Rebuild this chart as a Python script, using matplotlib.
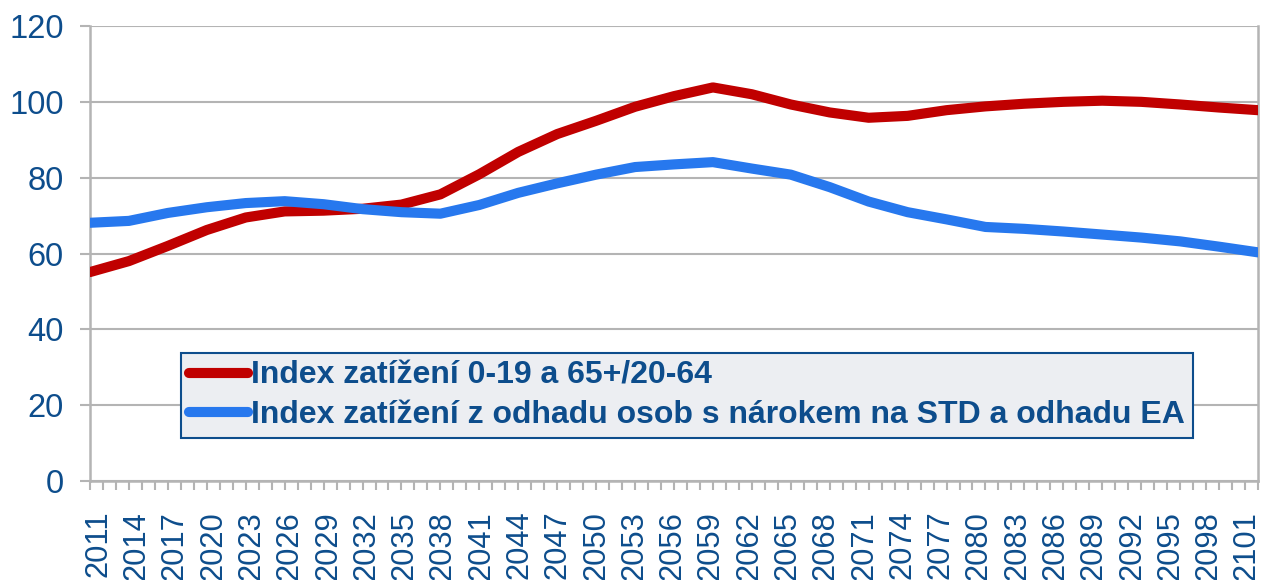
import matplotlib
matplotlib.use("Agg")
import matplotlib.pyplot as plt
from matplotlib.transforms import ScaledTranslation

years = list(range(2011, 2102, 3))
red_values = [55.1, 58.0, 62.0, 66.2, 69.5, 71.1, 71.3, 71.8, 72.9, 75.6,
              80.9, 86.8, 91.5, 95.0, 98.7, 101.5, 103.8, 102.0, 99.3, 97.2,
              95.8, 96.3, 97.8, 98.8, 99.5, 100.0, 100.3, 100.0, 99.3, 98.5, 97.8]
blue_values = [68.1, 68.6, 70.7, 72.2, 73.3, 73.8, 73.0, 71.7, 70.9, 70.5,
               72.8, 76.0, 78.5, 80.8, 82.8, 83.5, 84.1, 82.4, 80.8, 77.5,
               73.7, 70.9, 69.0, 67.0, 66.5, 65.8, 65.0, 64.2, 63.2, 61.8, 60.3]
red_label = "Index zatížení 0-19 a 65+/20-64"
blue_label = "Index zatížení z odhadu osob s nárokem na STD a odhadu EA"
y_ticks = [0, 20, 40, 60, 80, 100, 120]

TEXT = "#0d4d8c"
GRID = "#b4b4b4"

plt.rcParams['font.family'] = ['Liberation Sans', 'DejaVu Sans']

fig = plt.figure(figsize=(12.67, 5.8), dpi=100)
ax = fig.add_axes([90/1267, 1-481/580, (1258-90)/1267, (481-26)/580])

ax.plot(years, red_values, color="#c00000", lw=7.3, solid_capstyle="round",
        solid_joinstyle="round", label=red_label, zorder=3)
ax.plot(years, blue_values, color="#2778ee", lw=7.3, solid_capstyle="round",
        solid_joinstyle="round", label=blue_label, zorder=3)

ax.set_xlim(2011, 2101)
ax.set_ylim(0, 120)
ax.set_yticks(y_ticks)
ax.set_yticklabels([str(v) for v in y_ticks], fontsize=23.5, color=TEXT)
ax.set_xticks(years)
ax.set_xticklabels([str(y) for y in years], rotation=90, fontsize=22.2, color=TEXT)
ax.set_xticks(range(2011, 2102), minor=True)
ax.tick_params(axis='x', which='both', length=6.5, width=1.5, color=GRID, direction='out', pad=15)
ax.tick_params(axis='y', length=7, width=1.5, color=GRID, pad=12)
ax.grid(axis='y', color=GRID, lw=1.5, zorder=0)
for side in ['left', 'right', 'bottom']:
    ax.spines[side].set_color(GRID)
    ax.spines[side].set_linewidth(1.8)
ax.spines['top'].set_visible(False)

# label placement like the original (slightly compressed spacing)
labels = ax.get_xticklabels()
n = len(labels) - 1
for i, lab in enumerate(labels):
    dx = (6 - 14 * i / n) / 72.0
    lab.set_transform(lab.get_transform() + ScaledTranslation(dx, 0, fig.dpi_scale_trans))

leg = ax.legend(loc='upper left', bbox_to_anchor=((181-90)/1168, (481-353)/455),
                frameon=True, fancybox=False,
                prop={'weight': 'bold', 'size': 23},
                handlelength=1.85, handletextpad=0.08, borderpad=0.25,
                labelspacing=0.28, borderaxespad=0, edgecolor=TEXT,
                facecolor="#eceef2", framealpha=1)
leg.get_frame().set_linewidth(1.5)
for t in leg.get_texts():
    t.set_color(TEXT)

fig.savefig("out.png", dpi=100)
